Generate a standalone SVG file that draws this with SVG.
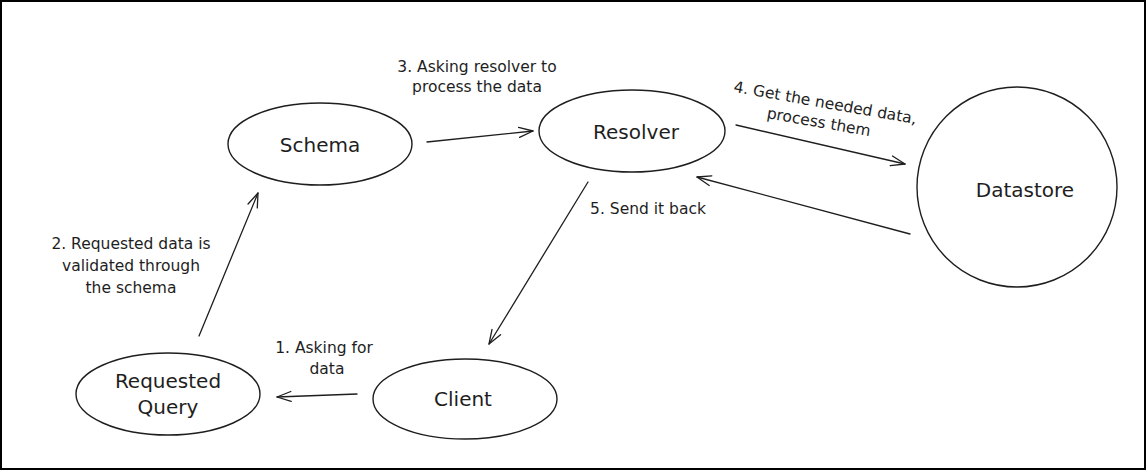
<svg xmlns="http://www.w3.org/2000/svg" width="1147" height="470" viewBox="0 0 1147 470">
  <defs>
    <marker id="arrow" viewBox="0 0 16 12" refX="15" refY="6" markerWidth="16" markerHeight="12" markerUnits="userSpaceOnUse" orient="auto">
      <path d="M1,1 L15,6 L1,11" fill="none" stroke="#1e1e1e" stroke-width="1.3" stroke-linecap="round" stroke-linejoin="round"/>
    </marker>
  </defs>
  <style>
    .shape { fill: none; stroke: #1e1e1e; stroke-width: 1.4; }
    .node-text { font-family: "DejaVu Sans", "Liberation Sans", sans-serif; font-size: 20px; fill: #1e1e1e; text-anchor: middle; }
    .label { font-family: "DejaVu Sans", "Liberation Sans", sans-serif; font-size: 15.5px; fill: #1e1e1e; text-anchor: middle; }
    .conn { fill: none; stroke: #1e1e1e; stroke-width: 1.3; stroke-linecap: round; marker-end: url(#arrow); }
  </style>
  <rect x="0" y="0" width="1147" height="470" fill="#ffffff"/>
  <rect x="1" y="1" width="1144" height="468" fill="none" stroke="#000000" stroke-width="2"/>

  <g id="node-schema">
    <ellipse class="shape" cx="320" cy="144" rx="92" ry="41"/>
    <text class="node-text" x="320" y="152">Schema</text>
  </g>
  <g id="node-resolver">
    <ellipse class="shape" cx="632" cy="131" rx="93" ry="41"/>
    <text class="node-text" x="636" y="139">Resolver</text>
  </g>
  <g id="node-datastore">
    <circle class="shape" cx="1017" cy="187" r="100"/>
    <text class="node-text" x="1025" y="197">Datastore</text>
  </g>
  <g id="node-requested-query">
    <ellipse class="shape" cx="168" cy="394" rx="92" ry="41"/>
    <text class="node-text" x="168" y="388">Requested</text>
    <text class="node-text" x="168" y="414">Query</text>
  </g>
  <g id="node-client">
    <ellipse class="shape" cx="465" cy="399" rx="92" ry="40"/>
    <text class="node-text" x="463" y="406">Client</text>
  </g>

  <g id="connectors">
    <line class="conn" x1="427" y1="142" x2="533" y2="131"/>
    <line class="conn" x1="736" y1="125" x2="905" y2="164"/>
    <line class="conn" x1="910" y1="234" x2="697" y2="177"/>
    <line class="conn" x1="588" y1="182" x2="489" y2="344"/>
    <line class="conn" x1="357" y1="394" x2="277" y2="397"/>
    <line class="conn" x1="199" y1="336" x2="258" y2="193"/>
  </g>

  <g id="labels">
    <text class="label" x="477" y="72">3. Asking resolver to</text>
    <text class="label" x="477" y="92">process the data</text>
    <g transform="rotate(10 825 104)">
      <text class="label" x="825" y="108">4. Get the needed data,</text>
      <text class="label" x="822" y="128">process them</text>
    </g>
    <text class="label" x="648" y="214">5. Send it back</text>
    <text class="label" x="131" y="249">2. Requested data is</text>
    <text class="label" x="131" y="271">validated through</text>
    <text class="label" x="131" y="293">the schema</text>
    <text class="label" x="324" y="353">1. Asking for</text>
    <text class="label" x="327" y="374">data</text>
  </g>
</svg>
